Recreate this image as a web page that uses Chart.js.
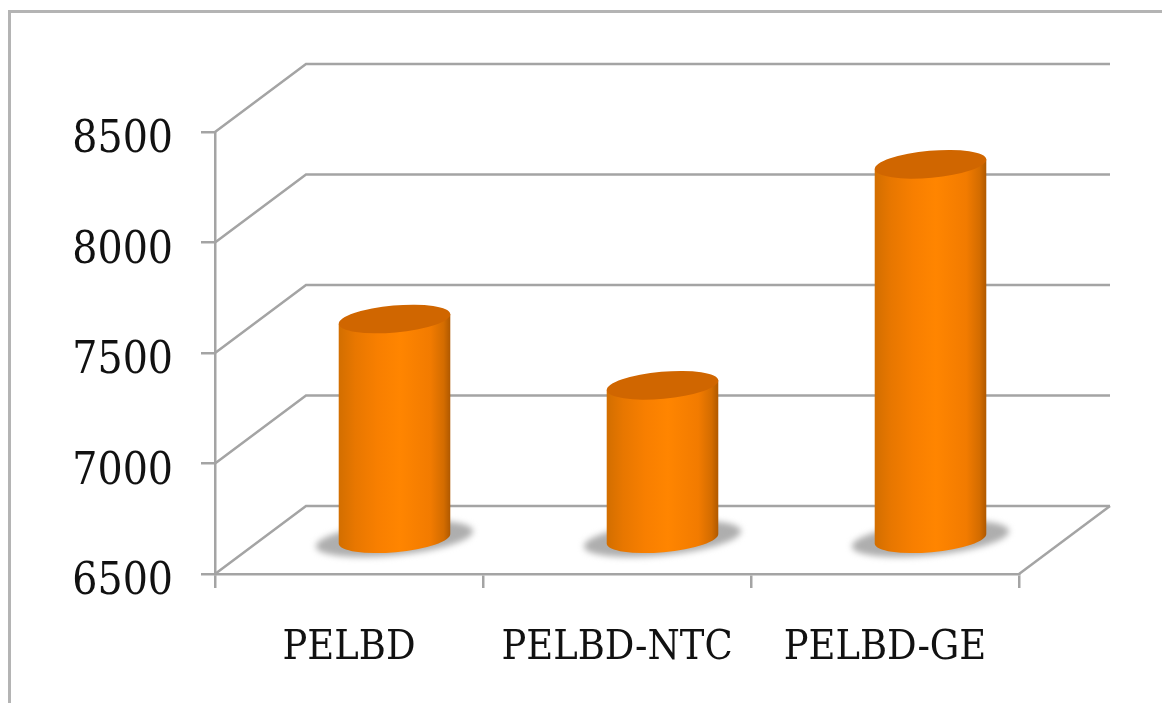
<!DOCTYPE html>
<html lang="en">
<head>
    <meta charset="UTF-8">
    <title>PELBD</title>
    <script src="https://cdn.jsdelivr.net/npm/chart.js"></script>
    <style>
        * {
            margin: 0;
            padding: 0;
            box-sizing: border-box;
        }

        body {
            background: #fff;
            overflow: hidden;
        }

        /* thin frame, open on the right and at the bottom */
        .frame {
            position: absolute;
            left: 8px;
            top: 10px;
            width: 1154px;
            height: 693px;
            border-left: 3px solid #b4b4b4;
            border-top: 3px solid #b4b4b4;
        }

        canvas {
            position: absolute;
            left: 0;
            top: 0;
        }
    </style>
</head>
<body>
    <div class="frame"></div>
    <canvas id="cylinderChart" width="1162" height="703"></canvas>

    <script>
        const categories = ['PELBD', 'PELBD-NTC', 'PELBD-GE'];
        const values = [7500, 7200, 8200];
        const axisMin = 6500;
        const axisMax = 8500;
        const axisStep = 500;

        const lineColor = '#a4a4a4';
        const depthX = 91;   // how far the back wall sits from the axis
        const depthY = 68;

        // wall grid and floor, everything that sits behind the bars
        function drawBackdrop(chart) {
            const { ctx, scales, chartArea } = chart;
            const { left, right, bottom } = chartArea;
            ctx.save();
            ctx.strokeStyle = lineColor;
            ctx.lineWidth = 2.5;
            for (let v = axisMin; v <= axisMax; v += axisStep) {
                const y = scales.y.getPixelForValue(v);
                ctx.beginPath();
                ctx.moveTo(left, y);
                ctx.lineTo(left + depthX, y - depthY);
                ctx.lineTo(right + depthX, y - depthY);
                ctx.stroke();
            }
            // right edge of the floor
            ctx.beginPath();
            ctx.moveTo(right, bottom);
            ctx.lineTo(right + depthX, bottom - depthY);
            ctx.stroke();
            ctx.restore();
        }

        function drawCylinder(ctx, bar) {
            const rx = bar.width / 2;
            const ry = 13.5;
            const tilt = -0.09;
            const cx = bar.x + depthX / 2;
            const topY = bar.y - depthY / 2;
            const baseY = bar.base - depthY / 2;

            // floor shadow
            ctx.save();
            ctx.filter = 'blur(3px)';
            ctx.fillStyle = '#aeaeae';
            ctx.beginPath();
            ctx.ellipse(cx, baseY, rx * 1.41, 16.5, -0.1, 0, Math.PI * 2);
            ctx.fill();
            ctx.restore();

            // body
            const body = ctx.createLinearGradient(cx - rx, 0, cx + rx, 0);
            body.addColorStop(0, '#d26e00');
            body.addColorStop(0.15, '#e87700');
            body.addColorStop(0.35, '#f87f00');
            body.addColorStop(0.55, '#ff8500');
            body.addColorStop(0.82, '#f27b00');
            body.addColorStop(0.94, '#d36c00');
            body.addColorStop(1, '#ae5800');
            const dx = rx * Math.cos(tilt);
            const dy = rx * Math.sin(tilt);
            ctx.fillStyle = body;
            ctx.beginPath();
            ctx.moveTo(cx - dx, topY - dy);
            ctx.lineTo(cx - dx, baseY - dy);
            ctx.ellipse(cx, baseY, rx, ry, tilt, Math.PI, 0, true);
            ctx.lineTo(cx + dx, topY + dy);
            ctx.closePath();
            ctx.fill();

            // top cap
            ctx.fillStyle = '#d06600';
            ctx.beginPath();
            ctx.ellipse(cx, topY, rx, ry, tilt, 0, Math.PI * 2);
            ctx.fill();
        }

        const cylinderPlugin = {
            id: 'cylinders',
            beforeDatasetsDraw(chart) {
                drawBackdrop(chart);
            },
            // the flat bars are replaced by cylinders at mid depth
            beforeDatasetDraw(chart, args) {
                const ctx = chart.ctx;
                args.meta.data.forEach(bar => drawCylinder(ctx, bar));
                return false;
            }
        };

        const labelFont = '"DejaVu Serif Condensed", "Liberation Serif", serif';

        new Chart(document.getElementById('cylinderChart').getContext('2d'), {
            type: 'bar',
            data: {
                labels: categories,
                datasets: [{
                    data: values,
                    base: axisMin,
                    backgroundColor: '#ff8500',
                    categoryPercentage: 1,
                    barPercentage: 0.418
                }]
            },
            plugins: [cylinderPlugin],
            options: {
                responsive: false,
                animation: false,
                layout: {
                    padding: { top: 132, right: 143 }
                },
                plugins: {
                    legend: { display: false },
                    tooltip: { enabled: false }
                },
                scales: {
                    x: {
                        afterFit(scale) {
                            scale.height = 129;
                        },
                        border: { color: lineColor, width: 2.5 },
                        grid: {
                            color: lineColor,
                            lineWidth: 2.5,
                            drawOnChartArea: false,
                            tickLength: 14
                        },
                        ticks: {
                            color: '#111',
                            font: { family: labelFont, size: 41 },
                            padding: 36,
                            maxRotation: 0
                        }
                    },
                    y: {
                        min: axisMin,
                        max: axisMax,
                        afterFit(scale) {
                            scale.width = 215;
                        },
                        border: { color: lineColor, width: 2.5 },
                        grid: {
                            color: lineColor,
                            lineWidth: 2.5,
                            drawOnChartArea: false,
                            tickLength: 14
                        },
                        ticks: {
                            stepSize: axisStep,
                            color: '#111',
                            font: { family: labelFont, size: 44 },
                            padding: 28,
                            labelOffset: 9,
                            callback: value => String(value)
                        }
                    }
                }
            }
        });
    </script>
</body>
</html>
